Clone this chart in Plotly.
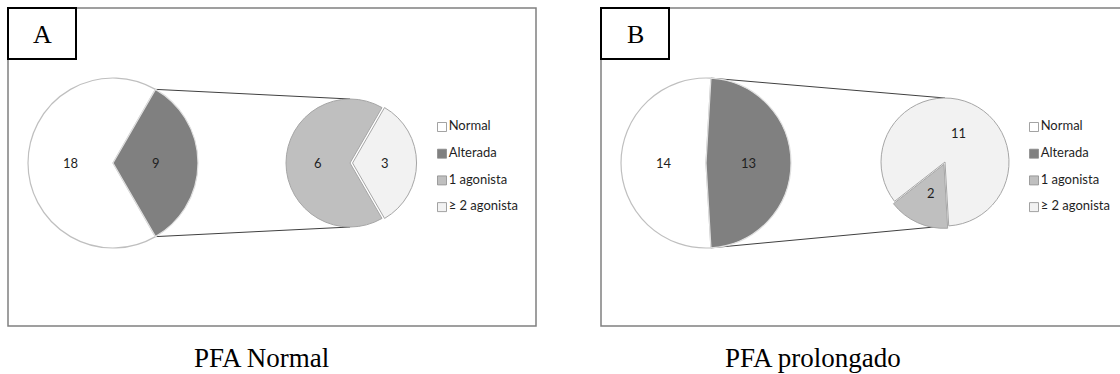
import math
import plotly.graph_objects as go

# ---------------- data ----------------
panel_letters = ["A", "B"]
panel_titles = ["PFA Normal", "PFA prolongado"]
main_labels = ["Normal", "Alterada"]
sub_labels = ["1 agonista", "≥ 2 agonista"]
main_A = [18, 9]
sub_A = [6, 3]
main_B = [14, 13]
sub_B = [2, 11]

# ---------------- style ----------------
W, H = 1120, 374
main_colors = ["#ffffff", "#808080"]
sub_colors = ["#bfbfbf", "#f2f2f2"]
legend_labels = main_labels + sub_labels
legend_colors = main_colors + sub_colors
LBL_FONT = dict(family="Lato, Calibri, sans-serif", size=13, color="#1f1f1f")
SERIF = "Liberation Serif, Times New Roman, serif"

panels = [
    dict(letter=panel_letters[0], title=panel_titles[0], main=main_A, sub=sub_A,
         frame=(8, 8, 536, 326), box=(8, 8, 76, 59),
         mc=(113, 163), mr=85, sc=(350, 163), sr=64, sub_pull=[0, 0.04],
         leg_x=442, title_x=261),
    dict(letter=panel_letters[1], title=panel_titles[1], main=main_B, sub=sub_B,
         frame=(601, 8, 1132, 326), box=(601, 8, 669, 59),
         mc=(706, 163), mr=85, sc=(945, 162), sr=64, sub_pull=[0.04, 0],
         leg_x=1034, title_x=813),
]


def dom(cx, cy, R):
    return dict(x=[(cx - R) / W, (cx + R) / W], y=[1 - (cy + R) / H, 1 - (cy - R) / H])


def pt(c, r, bearing):
    b = math.radians(bearing)
    return c[0] + r * math.sin(b), c[1] - r * math.cos(b)


def mids(values, rot):
    tot = sum(values)
    a = rot
    out = []
    for v in values:
        span = 360.0 * v / tot
        out.append(a + span / 2)
        a += span
    return out


fig = go.Figure()
shapes = []
annotations = []

for p in panels:
    main, sub = p["main"], p["sub"]
    rot = 90 + 180.0 * main[1] / sum(main)  # "Alterada" centred at 3 o'clock

    # connector lines (drawn first, pies sit above)
    b_start = rot - 360.0 * main[1] / sum(main)
    p1 = pt(p["mc"], p["mr"], b_start)
    p2 = pt(p["mc"], p["mr"], rot)
    s1 = (p["sc"][0], p["sc"][1] - p["sr"])
    s2 = (p["sc"][0], p["sc"][1] + p["sr"])
    fig.add_trace(go.Scatter(x=[p1[0], s1[0], None, p2[0], s2[0]],
                             y=[p1[1], s1[1], None, p2[1], s2[1]],
                             mode="lines", line=dict(color="#404040", width=1),
                             showlegend=False, hoverinfo="skip"))

    # primary pie
    fig.add_trace(go.Pie(labels=main_labels, values=main, sort=False,
                         direction="clockwise", rotation=rot,
                         domain=dom(p["mc"][0], p["mc"][1], p["mr"]),
                         marker=dict(colors=main_colors,
                                     line=dict(color=["#bfbfbf", "#e0e0e0"], width=1.2)),
                         textinfo="none", showlegend=False, hoverinfo="label+value"))
    # secondary pie
    mp = max(p["sub_pull"])
    fig.add_trace(go.Pie(labels=sub_labels, values=sub, sort=False,
                         direction="clockwise", rotation=rot, pull=p["sub_pull"],
                         domain=dom(p["sc"][0], p["sc"][1], p["sr"] * (1 + mp)),
                         marker=dict(colors=sub_colors,
                                     line=dict(color="#a6a6a6", width=1)),
                         textinfo="none", showlegend=False, hoverinfo="label+value"))

    # value labels
    for v, b in zip(main, mids(main, rot)):
        x, y = pt(p["mc"], p["mr"] * 0.5, b)
        annotations.append(dict(x=x, y=y, xref="x", yref="y", text=str(v),
                                showarrow=False, font=LBL_FONT))
    for v, b, pl in zip(sub, mids(sub, rot), p["sub_pull"]):
        x, y = pt(p["sc"], p["sr"] * (0.5 + pl), b)
        annotations.append(dict(x=x, y=y, xref="x", yref="y", text=str(v),
                                showarrow=False, font=LBL_FONT))

    # legend (square markers + text)
    ly = [127 + 26.7 * i for i in range(len(legend_labels))]
    fig.add_trace(go.Scatter(x=[p["leg_x"]] * len(legend_labels), y=ly,
                             mode="markers+text", text=legend_labels,
                             textposition="middle right",
                             textfont=LBL_FONT,
                             marker=dict(symbol="square", size=9, color=legend_colors,
                                         line=dict(color="#8c8c8c", width=0.8)),
                             showlegend=False, hoverinfo="skip", cliponaxis=False))

    # frames
    fx0, fy0, fx1, fy1 = p["frame"]
    shapes.append(dict(type="rect", xref="x", yref="y", x0=fx0, y0=fy0, x1=fx1, y1=fy1,
                       line=dict(color="#808080", width=1.5), fillcolor="rgba(0,0,0,0)",
                       layer="below"))
    bx0, by0, bx1, by1 = p["box"]
    shapes.append(dict(type="rect", xref="x", yref="y", x0=bx0, y0=by0, x1=bx1, y1=by1,
                       line=dict(color="#000000", width=2), fillcolor="#ffffff"))
    annotations.append(dict(x=(bx0 + bx1) / 2, y=(by0 + by1) / 2 + 1, xref="x", yref="y",
                            text=p["letter"], showarrow=False,
                            font=dict(family=SERIF, size=26, color="#000000")))
    annotations.append(dict(x=p["title_x"], y=358, xref="x", yref="y", text=p["title"],
                            showarrow=False,
                            font=dict(family=SERIF, size=27, color="#000000")))

fig.update_layout(
    width=W, height=H, autosize=False,
    margin=dict(l=0, r=0, t=0, b=0),
    paper_bgcolor="#ffffff", plot_bgcolor="rgba(0,0,0,0)",
    xaxis=dict(range=[0, W], visible=False, fixedrange=True, domain=[0, 1]),
    yaxis=dict(range=[H, 0], visible=False, fixedrange=True, domain=[0, 1]),
    shapes=shapes, annotations=annotations, showlegend=False,
)

fig.write_html("out.html")
